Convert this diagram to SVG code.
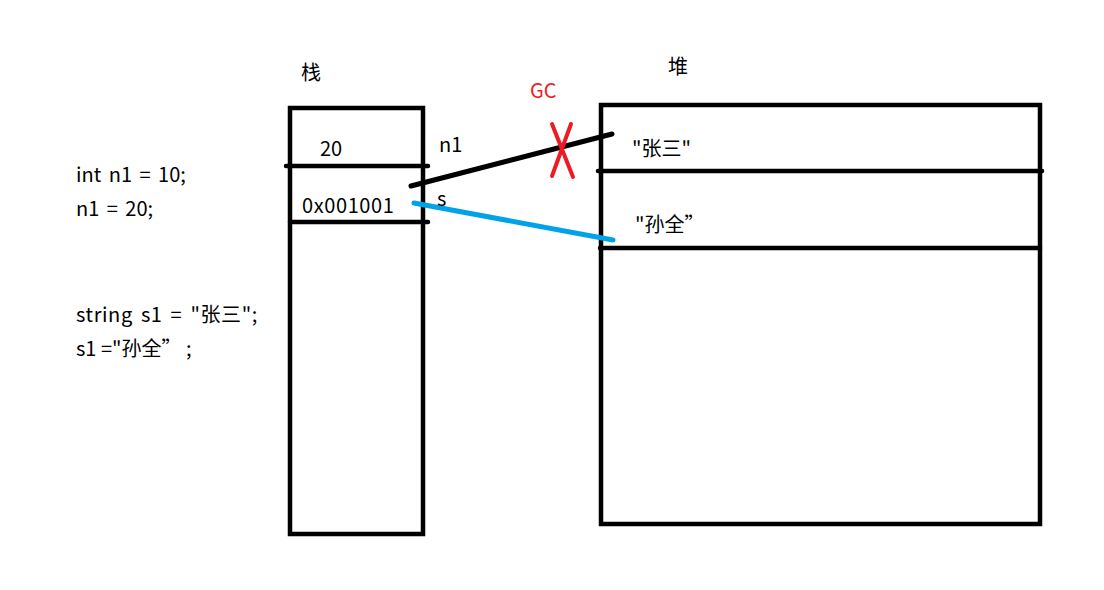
<svg xmlns="http://www.w3.org/2000/svg" width="1104" height="590" viewBox="0 0 1104 590">
<style>
text{font-family:"Noto Sans CJK SC","Noto Sans",sans-serif;font-size:20px;fill:#000}
.code{word-spacing:3px}
.box{fill:none;stroke:#000;stroke-width:4.5}
.div{stroke:#000;stroke-width:4.5;stroke-linecap:round}
.red{fill:#ed1c24}
</style>
<rect width="1104" height="590" fill="#fff"/>
<g id="code">
<text class="code" x="76" y="182">int n1 = 10;</text>
<text class="code" x="76" y="216">n1 = 20;</text>
<text class="code" x="76" y="322" letter-spacing="0.6">string s1 = "张三";</text>
<text x="76" y="356">s1 ="孙全” ;</text>
</g>
<g id="stack">
<text x="301" y="80" font-size="19">栈</text>
<rect class="box" x="290" y="108" width="133" height="426"/>
<line class="div" x1="286" y1="166" x2="428" y2="166"/>
<line class="div" x1="290" y1="222" x2="428" y2="222"/>
<text x="320" y="156">20</text>
<text x="302" y="213" letter-spacing="0.6">0x001001</text>
</g>
<g id="heap">
<text x="668" y="74" font-size="19">堆</text>
<rect class="box" x="601" y="105" width="439" height="419"/>
<line class="div" x1="598" y1="171" x2="1042" y2="171"/>
<line class="div" x1="600" y1="248" x2="1040" y2="248"/>
<text x="632" y="156">"张三"</text>
<text x="635" y="232">"孙全”</text>
</g>
<g id="connectors">
<line x1="411" y1="186" x2="612" y2="134" stroke="#000" stroke-width="5" stroke-linecap="round"/>
<line x1="414" y1="203" x2="613" y2="240" stroke="#00a2e8" stroke-width="5" stroke-linecap="round"/>
<text x="439" y="152">n1</text>
<text x="437" y="206">s</text>
</g>
<g id="gc">
<text class="red" x="530" y="98">GC</text>
<line x1="552" y1="124" x2="573" y2="177" stroke="#ed1c24" stroke-width="4" stroke-linecap="round"/>
<line x1="571" y1="124" x2="552" y2="176" stroke="#ed1c24" stroke-width="4" stroke-linecap="round"/>
</g>
</svg>
